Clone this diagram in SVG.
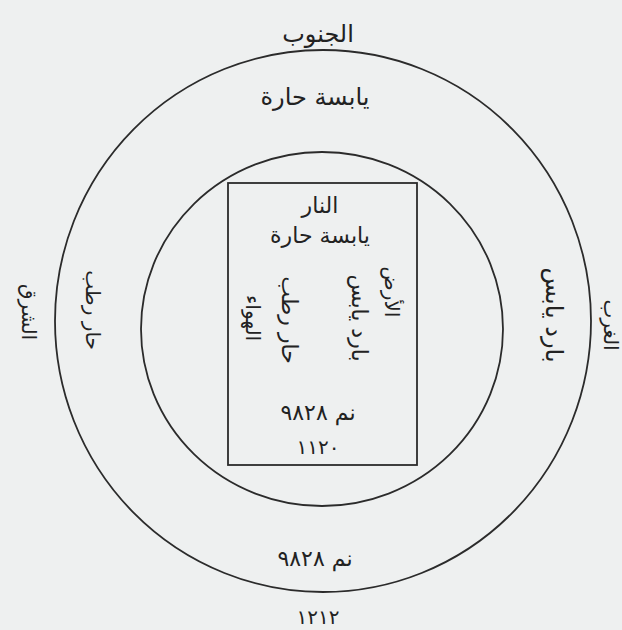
<svg xmlns="http://www.w3.org/2000/svg" width="622" height="630" viewBox="0 0 622 630">
<style>
.ln{fill:none;stroke:#2b2b2b;stroke-width:1.8}
.t{font-family:"DejaVu Sans",sans-serif;fill:#222;text-anchor:middle;direction:rtl}
.l{font-size:24px}
.m{font-size:22px}
.s{font-size:20px}
</style>
<rect width="622" height="630" fill="#eef0f0"/>
<g id="outer-circle"><ellipse class="ln" cx="323" cy="321" rx="268" ry="271"/></g>
<g id="inner-circle"><ellipse class="ln" cx="322" cy="329" rx="181" ry="177"/></g>
<g id="square"><rect class="ln" x="228" y="183" width="189" height="282"/></g>
<g id="south"><text class="t l" x="318" y="42">الجنوب</text></g>
<g id="south-quality"><text class="t l" x="315" y="105">يابسة حارة</text></g>
<g id="fire">
<text class="t m" x="320" y="213">النار</text>
<text class="t m" x="320" y="243">يابسة حارة</text>
</g>
<g id="earth">
<text class="t s" transform="translate(385,292) rotate(90)">الأرض</text>
<text class="t m" transform="translate(352,318) rotate(90)">بارد يابس</text>
</g>
<g id="air">
<text class="t m" transform="translate(282,320) rotate(90)">حار رطب</text>
<text class="t s" transform="translate(246,318) rotate(90)">الهواء</text>
</g>
<g id="inner-numbers">
<text class="t m" x="318" y="420">نم ٩٨٢٨</text>
<text class="t s" x="318" y="454">١١٢٠</text>
</g>
<g id="east-quality"><text class="t s" transform="translate(86,310) rotate(90)">حار رطب</text></g>
<g id="east"><text class="t s" transform="translate(22,312) rotate(90)">الشرق</text></g>
<g id="west-quality"><text class="t l" transform="translate(546,315) rotate(90)">بارد يابس</text></g>
<g id="west"><text class="t s" transform="translate(604,325) rotate(90)">الغرب</text></g>
<g id="bottom-numbers">
<text class="t m" x="315" y="566">نم ٩٨٢٨</text>
<text class="t s" x="318" y="624">١٢١٢</text>
</g>
<g id="connectors"></g>
</svg>
